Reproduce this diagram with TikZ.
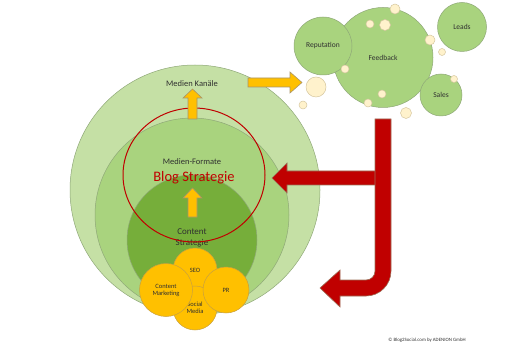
\documentclass[tikz,border=0pt]{standalone}
\usepackage{fontspec}
\setmainfont{Carlito}
\definecolor{gOut}{HTML}{C5E0A5}
\definecolor{gMid}{HTML}{A9D37E}
\definecolor{gIn}{HTML}{76AE3A}
\definecolor{gLine}{HTML}{8FA878}
\definecolor{org}{HTML}{FFC000}
\definecolor{orgLine}{HTML}{C8A040}
\definecolor{arrLine}{HTML}{A8946A}
\definecolor{redA}{HTML}{C00000}
\definecolor{redLine}{HTML}{9C7058}
\definecolor{cream}{HTML}{FFF2CC}
\definecolor{creamLine}{HTML}{D6C7A0}
\definecolor{txt}{HTML}{303030}
\tikzset{
  gcirc/.style={circle, draw=gLine, line width=0.5pt, inner sep=0pt, text=txt},
  ocirc/.style={circle, fill=org, draw=orgLine, line width=0.5pt, inner sep=0pt, text=txt, font=\fontsize{6.5}{7}\selectfont, align=center},
  tcirc/.style={circle, fill=gMid, draw=gLine, line width=0.5pt, inner sep=0pt, text=txt, font=\fontsize{7.5}{8}\selectfont},
  bub/.style={circle, fill=cream, draw=creamLine, line width=0.5pt, inner sep=0pt},
  lbl/.style={text=txt, font=\fontsize{8.5}{9}\selectfont, inner sep=0pt},
  oarrow/.style={fill=org, draw=arrLine, line width=0.6pt},
  rarrow/.style={fill=redA, draw=redLine, line width=0.6pt},
}
\begin{document}
\begin{tikzpicture}[x=1pt,y=-1pt]
\useasboundingbox (0,0) rectangle (505,355);
% green circles
\node[gcirc, fill=gOut, minimum size=250pt] (outer) at (195,190) {};
\node[gcirc, fill=gMid, minimum size=194pt] (mid) at (192,215) {};
\node[gcirc, fill=gIn, minimum size=130pt] (inner) at (192,240) {};
% labels
\node[lbl] (kanaele) at (192,84) {Medien Kanäle};
\node[lbl] (formate) at (192,162) {Medien-Formate};
\node[lbl, align=center, font=\fontsize{9}{10.5}\selectfont] (content) at (192,238) {Content\\Strategie};
% red circle
\draw[redA, line width=1pt] (194,175) ellipse [x radius=71, y radius=67];
\node[inner sep=0pt, text=redA, font=\fontsize{14.5}{15}\selectfont] (blog) at (194,178) {Blog Strategie};
% orange up arrows
\draw[oarrow] (188,119) -- (188,98) -- (183,98) -- (192.5,89) -- (202,98) -- (197,98) -- (197,119) -- cycle;
\draw[oarrow] (188,217) -- (188,198) -- (183,198) -- (192.5,188) -- (202,198) -- (197,198) -- (197,217) -- cycle;
% orange right arrow
\draw[oarrow] (248,78) -- (290,78) -- (290,72) -- (302,82.5) -- (290,93) -- (290,87) -- (248,87) -- cycle;
% orange circles
\node[ocirc, minimum size=44pt] (seo) at (195,270) {SEO};
\node[ocirc, minimum size=44pt] (social) at (195,308) {Social\\Media};
\node[ocirc, minimum size=53pt] (cm) at (166,290) {Content\\Marketing};
\node[ocirc, minimum size=46pt] (pr) at (226,290) {PR};
% top right circles
\node[tcirc, minimum size=100pt] (feedback) at (383,57.5) {Feedback};
\node[tcirc, minimum size=58pt] (reputation) at (323,46) {Reputation};
\node[tcirc, minimum size=49pt] (leads) at (462,27) {Leads};
\node[tcirc, minimum size=42pt] (sales) at (441,95) {Sales};
% bubbles
\node[bub, minimum size=10pt] (b1) at (395,9) {};
\node[bub, minimum size=8pt] (b2) at (370,24) {};
\node[bub, minimum size=11pt] (b3) at (385,25) {};
\node[bub, minimum size=10pt] (b4) at (430,40) {};
\node[bub, minimum size=7pt] (b5) at (442,52) {};
\node[bub, minimum size=8pt] (b6) at (345,69) {};
\node[bub, minimum size=20pt] (b7) at (316,87) {};
\node[bub, minimum size=8pt] (b8) at (303,105) {};
\node[bub, minimum size=8pt] (b9) at (382,94) {};
\node[bub, minimum size=8pt] (b10) at (368,103) {};
\node[bub, minimum size=11pt] (b11) at (406,113) {};
\node[bub, minimum size=7pt] (b12) at (454,79) {};
% red arrows
\draw[rarrow] (377,171) -- (287,171) -- (287,163) -- (272,178) -- (287,193) -- (287,185) -- (377,185) -- cycle;
\draw[rarrow] (375,119) -- (391,119) -- (391,271) .. controls (391,284.8) and (379.8,296) .. (366,296)
  -- (340,296) -- (340,307) -- (320,288) -- (340,270) -- (340,280) -- (366,280)
  .. controls (371,280) and (375,276) .. (375,271) -- cycle;
% copyright
\node[inner sep=0pt, text=txt, font=\fontsize{4.9}{5}\selectfont] (copy) at (427,340) {© Blog2Social.com by ADENION GmbH};
\end{tikzpicture}
\end{document}
